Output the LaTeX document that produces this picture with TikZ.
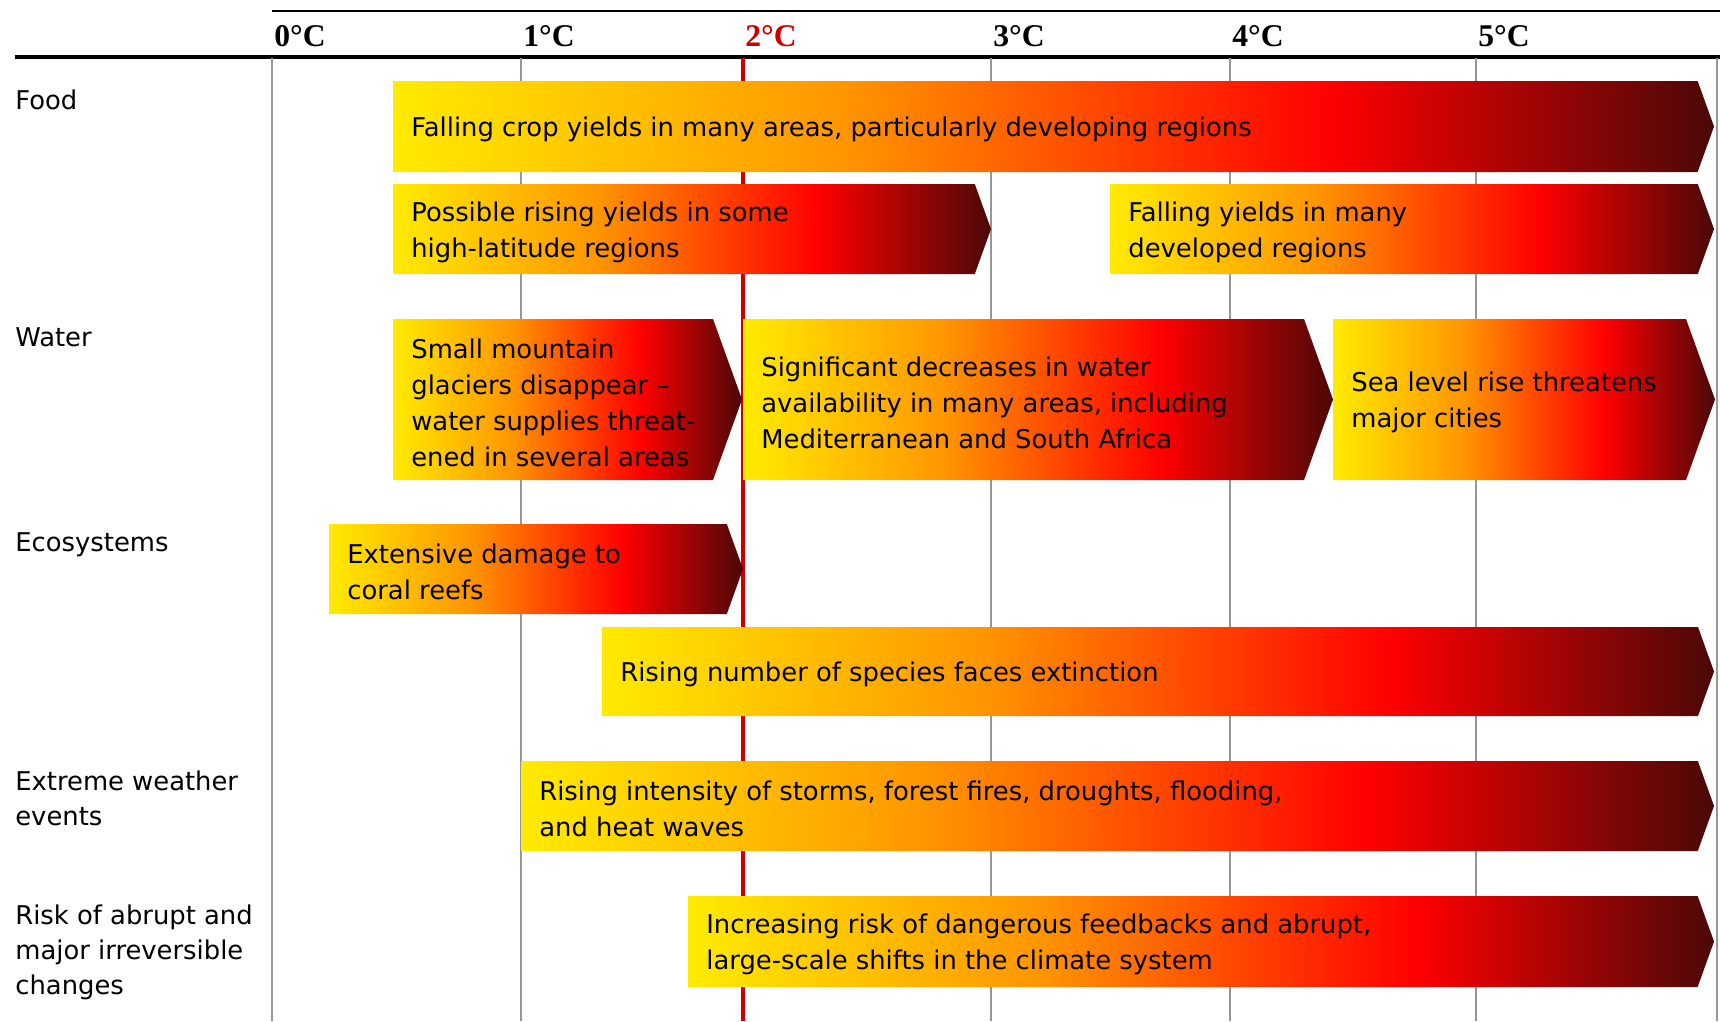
\documentclass[tikz,border=0pt]{standalone}
\usepackage{fontspec}
\setmainfont{DejaVu Sans}
\newfontfamily\degreefont{Liberation Serif}
\usepackage{tikz}
\usetikzlibrary{positioning}

\definecolor{heatyellow}{RGB}{255,235,0}
\definecolor{heatorange}{RGB}{255,150,0}
\definecolor{heatred}{RGB}{255,0,0}
\definecolor{heatdark}{RGB}{75,8,8}
\definecolor{twodeg}{RGB}{204,0,0}
\definecolor{gridgray}{RGB}{150,150,150}

\pgfdeclarehorizontalshading{heat}{100bp}{color(0bp)=(heatyellow); color(25bp)=(heatyellow); color(42bp)=(heatorange); color(60.5bp)=(heatred); color(75bp)=(heatdark); color(100bp)=(heatdark)}

% bar: name, left, tip, top, bottom, text
\newcommand{\heatbar}[6]{%
  \shade[shading=heat] (#2,#4) -- ({#3-0.18*(#5-#4)},#4) -- (#3,{(#4+#5)/2})
    -- ({#3-0.18*(#5-#4)},#5) -- (#2,#5) -- cycle;
  \node[bartext] (#1) at ({#2+18},{(#4+#5)/2+3}) {#6};}

\begin{document}
\begin{tikzpicture}[
    x=0.02cm, y=-0.02cm,
    bartext/.style={anchor=west, inner sep=0pt, align=left,
      font=\fontsize{14.7}{20.5}\selectfont},
    rowlabel/.style={anchor=west, inner sep=0pt, align=left,
      font=\fontsize{14.7}{20}\selectfont},
    degree/.style={anchor=west, inner sep=0pt,
      font=\degreefont\bfseries\fontsize{18}{20}\selectfont},
    gridline/.style={draw=gridgray, line width=0.8pt}
]
\useasboundingbox (0,0) rectangle (1720,1021);

% Header rules
\draw[line width=1.1pt] (272,11) -- (1720,11);
\draw[line width=2.3pt] (15,57) -- (1720,57);

% Degree scale
\node[degree] (d0) at (274,36) {0°C};
\node[degree] (d1) at (523,36) {1°C};
\node[degree, text=twodeg] (d2) at (745,36) {2°C};
\node[degree] (d3) at (993,36) {3°C};
\node[degree] (d4) at (1232,36) {4°C};
\node[degree] (d5) at (1478,36) {5°C};

% Grid
\draw[gridline] (272,58) -- (272,1021);
\draw[gridline] (521,58) -- (521,1021);
\draw[gridline] (991,58) -- (991,1021);
\draw[gridline] (1230,58) -- (1230,1021);
\draw[gridline] (1476,58) -- (1476,1021);
\draw[gridline] (1717,58) -- (1717,1021);
\draw[twodeg, line width=2.4pt] (743,58) -- (743,1021);

% Row labels
\node[rowlabel] (food) at (15,100) {Food};
\node[rowlabel] (water) at (15,337) {Water};
\node[rowlabel] (eco) at (15,545) {Ecosystems};
\node[rowlabel] (weather) at (15,798) {Extreme weather\\events};
\node[rowlabel] (abrupt) at (15,952) {Risk of abrupt and\\major irreversible\\changes};

% Food
\heatbar{cropfall}{393}{1714}{81}{172}{Falling crop yields in many areas, particularly developing regions}
\heatbar{croprise}{393}{991}{184}{274}{Possible rising yields in some\\high-latitude regions}
\heatbar{devfall}{1110}{1714}{184}{274}{Falling yields in many\\developed regions}

% Water
\heatbar{glaciers}{393}{742}{319}{480}{Small mountain\\glaciers disappear –\\water supplies threat-\\ened in several areas}
\heatbar{waterdrop}{743}{1333}{319}{480}{Significant decreases in water\\availability in many areas, including\\Mediterranean and South Africa}
\heatbar{sealevel}{1333}{1715}{319}{480}{Sea level rise threatens\\major cities}

% Ecosystems
\heatbar{coral}{329}{743}{524}{614}{Extensive damage to\\coral reefs}
\heatbar{species}{602}{1714}{627}{716}{Rising number of species faces extinction}

% Extreme weather
\heatbar{storms}{521}{1714}{761}{851}{Rising intensity of storms, forest fires, droughts, flooding,\\and heat waves}

% Abrupt changes
\heatbar{feedbacks}{688}{1714}{896}{987}{Increasing risk of dangerous feedbacks and abrupt,\\large-scale shifts in the climate system}

\end{tikzpicture}
\end{document}
